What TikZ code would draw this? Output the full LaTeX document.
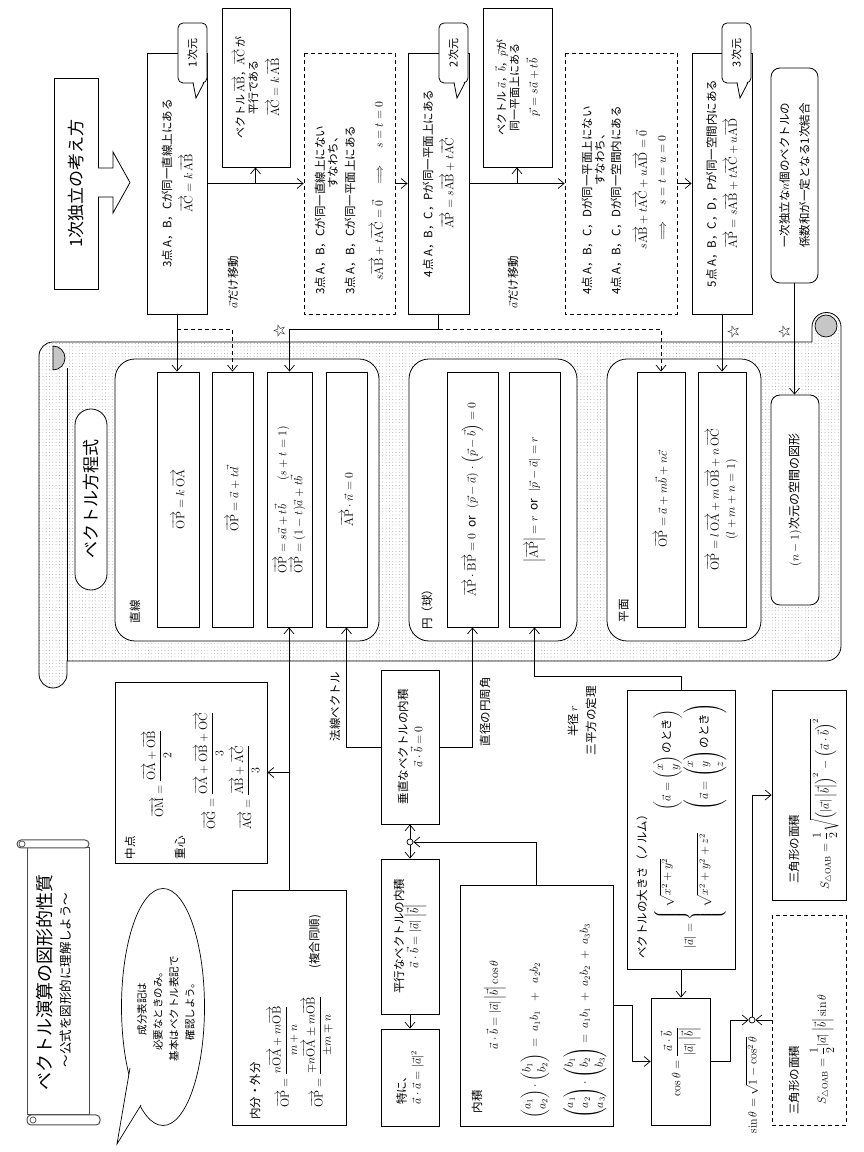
\documentclass[tikz,border=0pt]{standalone}
\usepackage{amsmath}
\usepackage[no-math]{fontspec}
\setmainfont{Noto Sans CJK JP}
\usetikzlibrary{arrows.meta,patterns.meta,shapes.geometric,calc}
\newcommand\ovr[1]{\overrightarrow{\mathrm{#1}}}
\newcommand\fsz[2]{\fontsize{#1}{#2}\selectfont}
\newcommand\bm[1]{{\fsz{13}{15}$#1$}}

\begin{document}
\begin{tikzpicture}[x=1pt,y=1pt,
  line width=0.7pt,
  box/.style={draw, fill=white, line width=0.8pt, inner sep=2pt, align=center, font=\fsz{11.5}{15}},
  dbox/.style={box, dash pattern=on 4pt off 3pt},
  grp/.style={draw, fill=white, rounded corners=20pt, line width=0.8pt},
  row/.style={box, minimum width=255, font=\fsz{12}{17}},
  txt/.style={inner sep=0pt, align=left, font=\fsz{11.5}{15}},
  arr/.style={line width=0.7pt, -{Straight Barb[length=6pt,width=10pt]}},
  darr/.style={arr, dash pattern=on 4pt off 3pt},
  starmark/.style={inner sep=0pt, font=\fsz{13}{13}},
  jun/.style={circle, draw, fill=white, inner sep=0pt, minimum size=6pt, line width=0.7pt},
  callout/.style={draw, fill=white, rounded corners=5pt, minimum width=60, minimum height=29, line width=0.8pt, font=\fsz{11}{13}}
]
\useasboundingbox (0,0) rectangle (864,1152);
\begin{scope}[rotate=90, transform shape]

% ---------- title scroll ----------
\draw[line width=1pt, draw=black!70, fill=white] (37,-27) rectangle (304,-89);
\draw[line width=1pt, draw=black!70, fill=white, rounded corners=4pt] (27,-27) rectangle (37,-100);
\draw[line width=1pt, draw=black!70, fill=white, rounded corners=4pt] (304,-17) rectangle (312,-89);
\draw[black!70] (32,-33) circle (3);
\draw[black!70] (308,-22) circle (3);
\node[font=\fsz{18}{20}] (ttl) at (169,-45) {ベクトル演算の図形的性質};
\node[font=\fsz{12.5}{14}] (subttl) at (172,-66) {～公式を図形的に理解しよう～};

% ---------- speech bubble ----------
\node[draw, fill=white, ellipse, minimum width=237, minimum height=83, line width=0.7pt] (bub) at (145,-163) {};
\draw[fill=white, line width=0.7pt] (84,-130) -- (8,-117) -- (47,-141);
\node[font=\fsz{10.5}{16}, align=center] (bubtxt) at (143,-166) {成分表記は\\必要なときのみ。\\基本はベクトル表記で\\確認しよう。};

% ---------- vector equation scroll ----------
\path[draw, line width=0.8pt, pattern={Dots[distance=3.3pt, radius=0.4pt]}, pattern color=black!45]
  (810,-53) -- (810,-812) -- (825,-812) arc[start angle=90, end angle=-90, radius=14.5]
  -- (506,-841) arc[start angle=270, end angle=180, radius=15]
  -- (491,-67) -- (478,-67) arc[start angle=270, end angle=90, radius=14]
  -- (796,-39) arc[start angle=90, end angle=0, radius=14] -- cycle;
\draw[line width=0.8pt] (491,-67) -- (784,-67);
\filldraw[fill=gray!45, line width=0.7pt] (782,-53) arc[start angle=180, end angle=360, radius=12] -- cycle;
\filldraw[fill=gray!45, line width=0.7pt] (826,-826) circle (11);

\node[grp, minimum width=282, minimum height=264] (gline) at (652,-247) {};
\node[grp, minimum width=282, minimum height=168] (gcirc) at (652,-493) {};
\node[grp, minimum width=282, minimum height=154] (gplane) at (652,-684) {};
\node[txt] (lbl1) at (540,-135) {直線};
\node[txt] (lbl2) at (545,-427) {円（球）};
\node[txt] (lbl3) at (541,-624) {平面};

\node[box, rounded corners=16pt, minimum width=181, minimum height=32, font=\fsz{17}{20}] (veq) at (652.5,-91) {ベクトル方程式};

\node[row, minimum height=42] (r1) at (652.5,-178) {$\ovr{OP}=k\,\ovr{OA}$};
\node[row, minimum height=41] (r2) at (652.5,-232.5) {$\ovr{OP}=\vec a+t\vec d$};
\node[row, minimum height=45, align=left, font=\fsz{12}{16}] (r3) at (652.5,-289.5) {$\ovr{OP}=s\vec a+t\vec b\qquad(s+t=1)$\\$\ovr{OP}=(1-t)\vec a+t\vec b$};
\node[row, minimum height=41] (r4) at (652.5,-346.5) {$\ovr{AP}\cdot\vec n=0$};
\node[row, minimum height=51] (c1) at (652.5,-472.5) {$\ovr{AP}\cdot\ovr{BP}=0\ \ \text{or}\ \ \left(\vec p-\vec a\right)\cdot\left(\vec p-\vec b\right)=0$};
\node[row, minimum height=51] (c2) at (652.5,-534.5) {$\left|\ovr{AP}\right|=r\ \ \text{or}\ \ \left|\vec p-\vec a\right|=r$};
\node[row, minimum height=48] (p1) at (652.5,-661) {$\ovr{OP}=\vec a+m\vec b+n\vec c$};
\node[row, minimum height=48, font=\fsz{12}{16}] (p2) at (652.5,-722) {$\ovr{OP}=l\,\ovr{OA}+m\,\ovr{OB}+n\,\ovr{OC}$\\$(l+m+n=1)$};
\node[box, rounded corners=9pt, minimum width=210, minimum height=48, font=\fsz{12}{14}] (nd) at (652,-795) {$(n-1)$次元の空間の図形};

% ---------- linear independence chain ----------
\node[box, minimum width=211, minimum height=44, font=\fsz{17}{20}] (indep) at (968.5,-76) {1次独立の考え方};
\draw[line width=0.8pt, fill=white] (955,-98) -- (955,-113) -- (939,-113) -- (969.5,-130) -- (1000,-113) -- (984,-113) -- (984,-98);

\node[box, minimum width=261, minimum height=60] (b3) at (968.5,-177) {3点 A，B，Cが同一直線上にある\\[6pt]\bm{\ovr{AC}=k\,\ovr{AB}}};
\node[box, minimum width=159, minimum height=68, font=\fsz{11}{13}] (bp1) at (1064.5,-256) {ベクトル $\ovr{AB}$，$\ovr{AC}$ が\\平行である\\[7pt]\bm{\ovr{AC}=k\,\ovr{AB}}};

\node[dbox, minimum width=261, minimum height=91] (d1) at (968.5,-349.5) {};
\node[txt, anchor=west] (d1a) at (857,-320) {3点 A，B，Cが同一直線上にない};
\node[txt] (d1b) at (992,-333) {すなわち、};
\node[txt, anchor=west] (d1c) at (857,-350) {3点 A，B，Cが同一平面上にある};
\node[txt] (d1d) at (961,-377) {\bm{s\ovr{AB}+t\ovr{AC}=\vec 0\quad\Longrightarrow\quad s=t=0}};

\node[box, minimum width=261, minimum height=61] (b4) at (968.5,-438.5) {4点 A，B，C，Pが同一平面上にある\\[6pt]\bm{\ovr{AP}=s\ovr{AB}+t\ovr{AC}}};
\node[box, minimum width=159, minimum height=69, font=\fsz{11}{13}] (bp2) at (1064.5,-517.5) {ベクトル $\vec a$，$\vec b$，$\vec p$が\\同一平面上にある\\[6pt]\bm{\vec p=s\vec a+t\vec b}};

\node[dbox, minimum width=261, minimum height=112] (d2) at (968.5,-621) {};
\node[txt, anchor=west] (d2a) at (857,-587) {4点 A，B，C，Dが同一平面上にない};
\node[txt] (d2b) at (995,-600) {すなわち、};
\node[txt, anchor=west] (d2c) at (857,-616) {4点 A，B，C，Dが同一空間内にある};
\node[txt] (d2d) at (962,-641) {\bm{s\ovr{AB}+t\ovr{AC}+u\ovr{AD}=\vec 0}};
\node[txt] (d2e) at (964,-662) {\bm{\Longrightarrow\quad s=t=u=0}};

\node[box, minimum width=261, minimum height=60] (b5) at (968.5,-722) {5点 A，B，C，D，Pが同一空間内にある\\[6pt]\bm{\ovr{AP}=s\ovr{AB}+t\ovr{AC}+u\ovr{AD}}};
\node[box, rounded corners=9pt, minimum width=215, minimum height=47] (bind) at (976.5,-794.5) {一次独立な$n$個のベクトルの\\[5pt]係数和が一定となる1次結合};

% dimension callouts
\foreach \yc/\tx [count=\i] in {192.5/1次元, 453.5/2次元, 736.5/3次元} {
  \node[callout] (cl\i) at (1099,-\yc) {\tx};
  \fill[white] (1071,-\yc-1) -- (1054,-\yc-3.5) -- (1071,-\yc-11) -- cycle;
  \draw[line width=0.8pt] (1069.4,-\yc-0.5) -- (1054,-\yc-3.5) -- (1069.4,-\yc-11.5);
}

% chain connectors
\draw[arr] (b3.south) -- (d1.north);
\coordinate (k3) at ($(b3.south)!0.5!(d1.north)$);
\draw[arr] (k3) -- (k3 -| bp1.west);
\draw[arr] (d1.south) -- (b4.north);
\draw[arr] (b4.south) -- (d2.north);
\coordinate (k4) at ($(b4.south)!0.5!(d2.north)$);
\draw[arr] (k4) -- (k4 -| bp2.west);
\draw[arr] (d2.south) -- (b5.north);

% chain to equations
\coordinate (t3) at ($(b3.west)+(-15,0)$);
\draw[arr] (b3.west) -- (b3.west -| r1.east);
\draw[darr] (t3) |- (r2.east);
\node[txt] (mv1) at (870,-233) {$\vec a$だけ移動};
\coordinate (t4) at ($(b4.west)+(-15,0)$);
\draw[arr] (b4.west) -- (t4) |- (r3.east);
\draw[darr] (t4) |- (p1.east);
\node[txt] (mv2) at (870,-513) {$\vec a$だけ移動};
\draw[arr] (b5.west) -- (b5.west -| p2.east);
\draw[arr] (bind.west) -- (bind.west -| nd.east);
\node[starmark] (s1) at (821,-280) {☆};
\node[starmark] (s2) at (820,-734) {☆};
\node[starmark] (s3) at (820,-785) {☆};

% ---------- lower boxes ----------
\node[box, minimum width=181, minimum height=152] (bmid) at (379.5,-191) {};
\node[txt] (mid1) at (304,-130) {中点};
\node[txt, anchor=west] (mid2) at (334,-157) {$\ovr{OM}=\dfrac{\ovr{OA}+\ovr{OB}}{2}$};
\node[txt] (mid3) at (304,-180) {重心};
\node[txt, anchor=west] (mid4) at (322,-209) {$\ovr{OG}=\dfrac{\ovr{OA}+\ovr{OB}+\ovr{OC}}{3}$};
\node[txt, anchor=west] (mid5) at (322,-245) {$\ovr{AG}=\dfrac{\ovr{AB}+\ovr{AC}}{3}$};

\node[box, minimum width=235, minimum height=114] (bdiv) at (144.5,-289) {};
\node[txt] (div1) at (61,-255) {内分・外分};
\node[txt, anchor=west] (div2) at (44,-283) {$\ovr{OP}=\dfrac{n\ovr{OA}+m\ovr{OB}}{m+n}$};
\node[txt, anchor=west] (div3) at (44,-317) {$\ovr{OP}=\dfrac{\mp n\ovr{OA}\pm m\ovr{OB}}{\pm m\mp n}$};
\node[txt] (div4) at (210,-315) {(複合同順)};

\node[box, minimum width=154, minimum height=58] (bperp) at (405,-410) {垂直なベクトルの内積\\$\vec a\cdot\vec b=0$};
\node[box, minimum width=155, minimum height=58] (bpar) at (215.5,-410) {平行なベクトルの内積\\$\vec a\cdot\vec b=|\vec a|\left|\vec b\right|$};
\node[box, minimum width=97, minimum height=58, align=left] (bsp) at (74.5,-410) {特に、\\$\vec a\cdot\vec a=|\vec a|^2$};

\node[box, minimum width=241, minimum height=153] (binner) at (146.5,-536.5) {};
\node[txt] (in1) at (50,-477) {内積};
\node[txt, font=\fsz{12}{15}] (in2) at (147,-495) {$\vec a\cdot\vec b=|\vec a|\left|\vec b\right|\cos\theta$};
\node[txt, anchor=west, font=\fsz{12}{15}] (in3) at (33,-535) {$\begin{pmatrix}a_1\\a_2\end{pmatrix}\cdot\begin{pmatrix}b_1\\b_2\end{pmatrix}\;=\;a_1b_1\;\;+\;\;a_2b_2$};
\node[txt, anchor=west, font=\fsz{12}{15}] (in4) at (33,-585) {$\begin{pmatrix}a_1\\a_2\\a_3\end{pmatrix}\cdot\begin{pmatrix}b_1\\b_2\\b_3\end{pmatrix}=\;a_1b_1\;+\;a_2b_2\;+\;a_3b_3$};

\node[box, minimum width=127, minimum height=59] (bcos) at (90.5,-680.5) {$\cos\theta=\dfrac{\vec a\cdot\vec b}{|\vec a|\left|\vec b\right|}$};

\node[box, minimum width=279, minimum height=108] (bnorm) at (322.5,-681) {};
\node[txt, anchor=west] (nm1) at (193,-642) {ベクトルの大きさ（ノルム）};
\node[txt, anchor=west] (nm2) at (203,-690) {$|\vec a|=\left\{\begin{array}{@{\,}l@{\qquad}l@{}}\sqrt{x^2+y^2} & \left(\vec a=\begin{pmatrix}x\\y\end{pmatrix}\text{のとき}\right)\\[2pt] \sqrt{x^2+y^2+z^2} & \left(\vec a=\begin{pmatrix}x\\y\\z\end{pmatrix}\text{のとき}\right)\end{array}\right.$};

\node[box, minimum width=210, minimum height=74] (bsq) at (357,-809) {};
\node[txt, anchor=west] (sq1) at (268,-794) {三角形の面積};
\node[txt, anchor=west] (sq2) at (262,-824) {$S_{\triangle\mathrm{OAB}}=\dfrac{1}{2}\sqrt{\left(|\vec a|\left|\vec b\right|\right)^2-\left(\vec a\cdot\vec b\right)^2}$};

\node[dbox, minimum width=210, minimum height=74] (bsin) at (132,-809) {};
\node[txt, anchor=west] (sn1) at (37,-794) {三角形の面積};
\node[txt, anchor=west] (sn2) at (47,-822) {$S_{\triangle\mathrm{OAB}}=\dfrac{1}{2}|\vec a|\left|\vec b\right|\sin\theta$};

\node[jun] (J1) at (310,-410) {};
\node[jun] (J2) at (132,-752) {};

% ---------- lower connectors ----------
\coordinate (m1) at (bmid.south |- bdiv.east);
\draw[arr] (bdiv.east) -- (bdiv.east -| r3.west);
\draw[arr] (m1) -- (bmid.south);
\draw[arr] (bperp.north) |- (r4.west);
\draw[arr] (bperp.south) |- (c1.west);
\node[txt] (lb1) at (445,-335) {法線ベクトル};
\node[txt] (lb2) at (440,-485) {直径の円周角};
\draw[arr] (bnorm.east) -- ++(13,0) |- (c2.west);
\node[txt, align=center] (lb3) at (431,-582) {半径 $r$\\[3pt]三平方の定理};
\draw[arr] (bnorm.west) -- (bnorm.west -| bcos.east);
\draw[arr] (binner.south) -- ++(0,-19) -| (bcos.north);
\draw[arr] (bcos.south) -- ++(0,-20) -| (J2);
\draw[arr] (bsin.north) -- (J2);
\draw[arr] (J2) -| (bsq.north);
\node[txt] (lb4) at (67,-752) {$\sin\theta=\sqrt{1-\cos^2\theta}$};
\draw[arr] (binner.east) -| (J1);
\draw[arr] (J1) -- (bperp.west);
\draw[arr] (J1) -- (bpar.east);
\draw[arr] (bpar.west) -- (bsp.east);

\end{scope}
\end{tikzpicture}
\end{document}
